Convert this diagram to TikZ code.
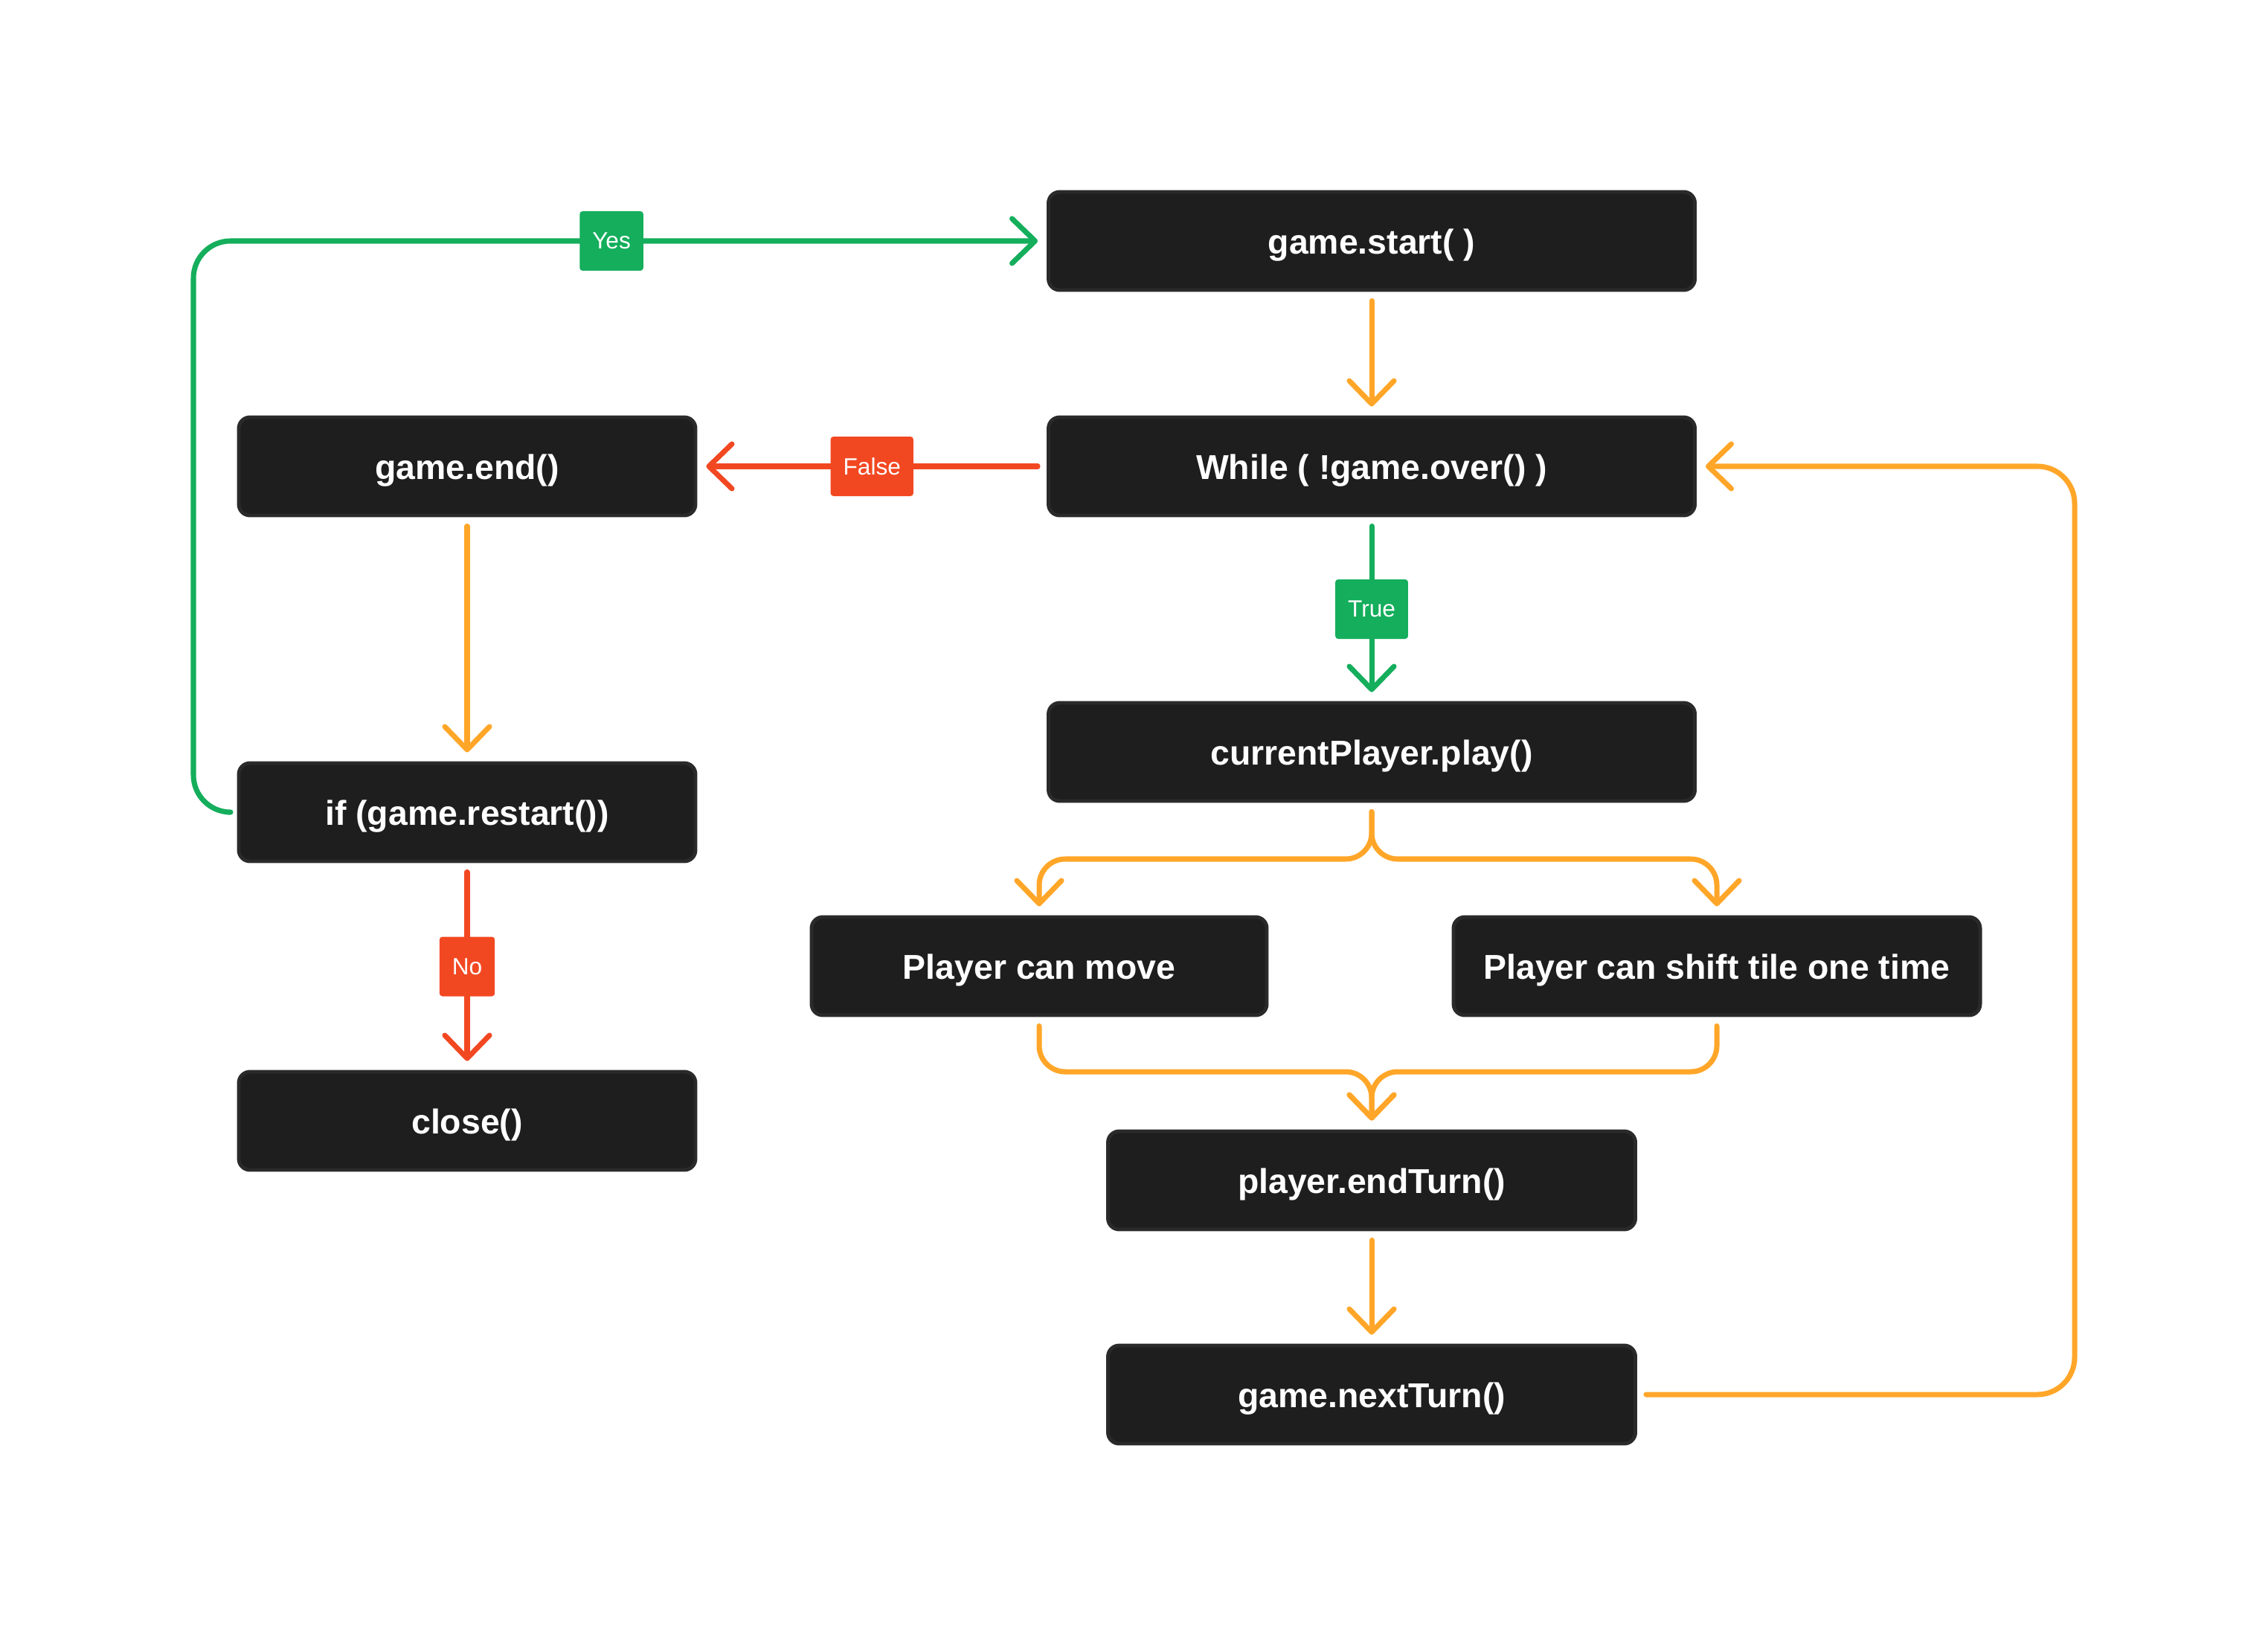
\documentclass[tikz,border=0pt]{standalone}
\usepackage{fontspec}
\setmainfont{Liberation Sans}
\usepackage{xcolor}
\usetikzlibrary{calc,arrows.meta}
\definecolor{bg}{HTML}{FFFFFF}
\definecolor{boxbg}{HTML}{1E1E1E}
\definecolor{boxrim}{HTML}{2A2A2A}
\definecolor{text}{HTML}{FFFFFF}
\definecolor{ok}{HTML}{14AE5C}
\definecolor{bad}{HTML}{F24822}
\definecolor{flowc}{HTML}{FFA629}
\tikzset{
  box/.style={draw=boxrim, fill=boxbg, line width=1.4pt, rounded corners=0.15cm, minimum height=1.32cm, inner sep=0pt, text height=12.9pt, text depth=2.7pt, text=text, font=\fontsize{13.2}{15}\selectfont\bfseries},
  link/.style={line width=2pt, line cap=round, line join=round, rounded corners=0.5cm, shorten <=0.12cm, shorten >=0.12cm, -{Straight Barb[length=0.31cm, width=0.6cm, round]}},
  flow/.style={link, draw=flowc},
  yes/.style={link, draw=ok},
  no/.style={link, draw=bad},
  tag/.style={text=text, font=\fontsize{9}{11}\selectfont, rounded corners=0.04cm, minimum height=0.8cm, inner xsep=0.17cm, inner ysep=0pt},
  tagok/.style={tag, fill=ok},
  tagbad/.style={tag, fill=bad}
}
\begin{document}
\begin{tikzpicture}
  \fill[bg] (0,0) rectangle (30.49,-22);
  \useasboundingbox (0,0) rectangle (30.49,-22);

  \node[box, minimum width=8.69cm] (start)   at (18.44,-3.24)  {game.start( )};
  \node[box, minimum width=8.69cm] (while)   at (18.44,-6.27)  {While ( !game.over() )};
  \node[box, minimum width=6.14cm] (gend)    at (6.28,-6.27)   {game.end()};
  \node[box, minimum width=6.14cm] (restart) at (6.28,-10.92)  {if (game.restart())};
  \node[box, minimum width=6.14cm] (close)   at (6.28,-15.07)  {close()};
  \node[box, minimum width=8.69cm] (play)    at (18.44,-10.11) {currentPlayer.play()};
  \node[box, minimum width=6.12cm] (move)    at (13.97,-12.99) {Player can move};
  \node[box, minimum width=7.08cm] (shift)   at (23.08,-12.99) {Player can shift tile one time};
  \node[box, minimum width=7.09cm] (endturn) at (18.44,-15.87) {player.endTurn()};
  \node[box, minimum width=7.09cm] (next)    at (18.44,-18.75) {game.nextTurn()};

  \coordinate (yl)    at (2.60,-3.24);
  \coordinate (split) at (18.44,-11.55);
  \coordinate (merge) at (18.44,-14.41);
  \coordinate (loop)  at (27.89,-6.27);

  \draw[flow] (start) -- (while);
  \draw[no] (while) -- node[tagbad] (lfalse) {False} (gend);
  \draw[yes] (while) -- node[tagok] (ltrue) {True} (play);
  \draw[flow] (gend) -- (restart);
  \draw[no] (restart) -- node[tagbad] (lno) {No} (close);
  \draw[yes] (restart) -| (yl) -- node[tagok, pos=0.49] (lyes) {Yes} (start);

  \draw[flow, rounded corners=0.35cm] (play) -- (split) -| (move);
  \draw[flow, rounded corners=0.35cm] (play) -- (split) -| (shift);
  \draw[flow, rounded corners=0.35cm] (move) |- (merge) -- (endturn);
  \draw[flow, rounded corners=0.35cm] (shift) |- (merge) -- (endturn);
  \draw[flow] (endturn) -- (next);
  \draw[flow] (next) -| (loop) -- (while);
\end{tikzpicture}
\end{document}
